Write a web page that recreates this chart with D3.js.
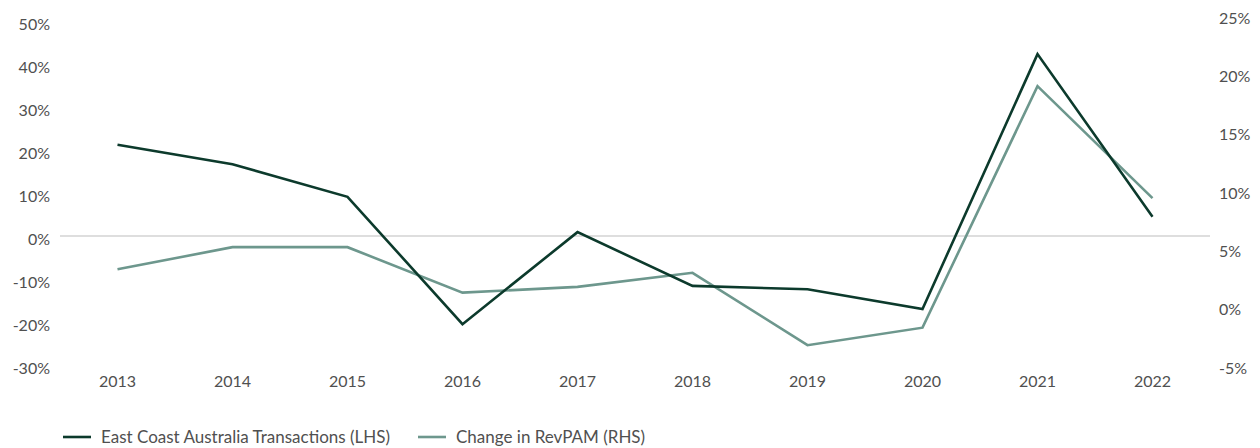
<!DOCTYPE html>
<html>
<head>
<meta charset="utf-8">
<script src="https://cdn.jsdelivr.net/npm/d3@7"></script>
<style>
  html, body { margin: 0; padding: 0; background: #fff; }
  svg { display: block; }
  text { font-family: Lato, "Noto Sans", sans-serif; fill: #505050; }
</style>
</head>
<body>
<svg id="chart" width="1260" height="448"></svg>
<script>
// Years on the category axis
const years = ["2013", "2014", "2015", "2016", "2017", "2018", "2019", "2020", "2021", "2022"];
// East Coast Australia transactions, annual change (%), left axis
const transactions = [21.2, 16.7, 9.1, -20.5, 0.9, -11.6, -12.4, -17.0, 42.3, 4.5];
// Change in RevPAM (%), right axis
const revpam = [3.2, 5.1, 5.1, 1.2, 1.7, 2.9, -3.3, -1.8, 18.9, 9.3];
// Axis tick values
const leftTicks = [-30, -20, -10, 0, 10, 20, 30, 40, 50];
const rightTicks = [-5, 0, 5, 10, 15, 20, 25];
// Legend entries
const legendLabels = ["East Coast Australia Transactions (LHS)", "Change in RevPAM (RHS)"];

const colDark = "#0c3a2c";
const colLight = "#6d978d";
const textCol = "#505050";

const svg = d3.select("#chart");

const x = d3.scaleBand().domain(years).range([60, 1210]);
const yL = d3.scaleLinear().domain([-30, 50]).range([365, 21]);
const yR = d3.scaleLinear().domain([-5, 25]).range([365, 15]);

const cx = d => x(d) + x.bandwidth() / 2;

// Zero line of the left axis
svg.append("line")
  .attr("x1", 60).attr("x2", 1210)
  .attr("y1", yL(0)).attr("y2", yL(0))
  .attr("stroke", "#bdbdbd").attr("stroke-width", 1.2);

// Left axis labels
const leftAxis = d3.axisLeft(yL).tickValues(leftTicks).tickSize(0).tickPadding(0)
  .tickFormat(d => d + "%");
svg.append("g").attr("transform", "translate(50,3)").call(leftAxis)
  .call(g => g.select(".domain").remove())
  .selectAll("text").attr("font-size", 16).attr("font-family", "Lato, sans-serif").attr("fill", textCol);

// Right axis labels
const rightAxis = d3.axisRight(yR).tickValues(rightTicks).tickSize(0).tickPadding(0)
  .tickFormat(d => d + "%");
svg.append("g").attr("transform", "translate(1219,3)").call(rightAxis)
  .call(g => g.select(".domain").remove())
  .selectAll("text").attr("font-size", 16).attr("font-family", "Lato, sans-serif").attr("fill", textCol);

// Category labels
const bottomAxis = d3.axisBottom(x).tickSize(0).tickPadding(0);
svg.append("g").attr("transform", "translate(0,376)").call(bottomAxis)
  .call(g => g.select(".domain").remove())
  .selectAll("text").attr("font-size", 16).attr("font-family", "Lato, sans-serif").attr("fill", textCol);

// Series lines
const lineL = d3.line().x((d, i) => cx(years[i])).y(d => yL(d));
const lineR = d3.line().x((d, i) => cx(years[i])).y(d => yR(d));

svg.append("path").datum(revpam)
  .attr("d", lineR).attr("fill", "none")
  .attr("stroke", colLight).attr("stroke-width", 2.6)
  .attr("stroke-linejoin", "miter");

svg.append("path").datum(transactions)
  .attr("d", lineL).attr("fill", "none")
  .attr("stroke", colDark).attr("stroke-width", 2.6)
  .attr("stroke-linejoin", "miter");

// Legend
const legend = svg.append("g").attr("transform", "translate(0,437)");
const legendItems = [
  { label: legendLabels[0], color: colDark, x: 63 },
  { label: legendLabels[1], color: colLight, x: 418 }
];
legendItems.forEach(it => {
  legend.append("line")
    .attr("x1", it.x).attr("x2", it.x + 28)
    .attr("y1", 0).attr("y2", 0)
    .attr("stroke", it.color).attr("stroke-width", 2.6);
  legend.append("text")
    .attr("x", it.x + 38).attr("y", 0).attr("dy", "0.35em")
    .attr("font-size", 17).attr("fill", textCol)
    .text(it.label);
});
</script>
</body>
</html>
